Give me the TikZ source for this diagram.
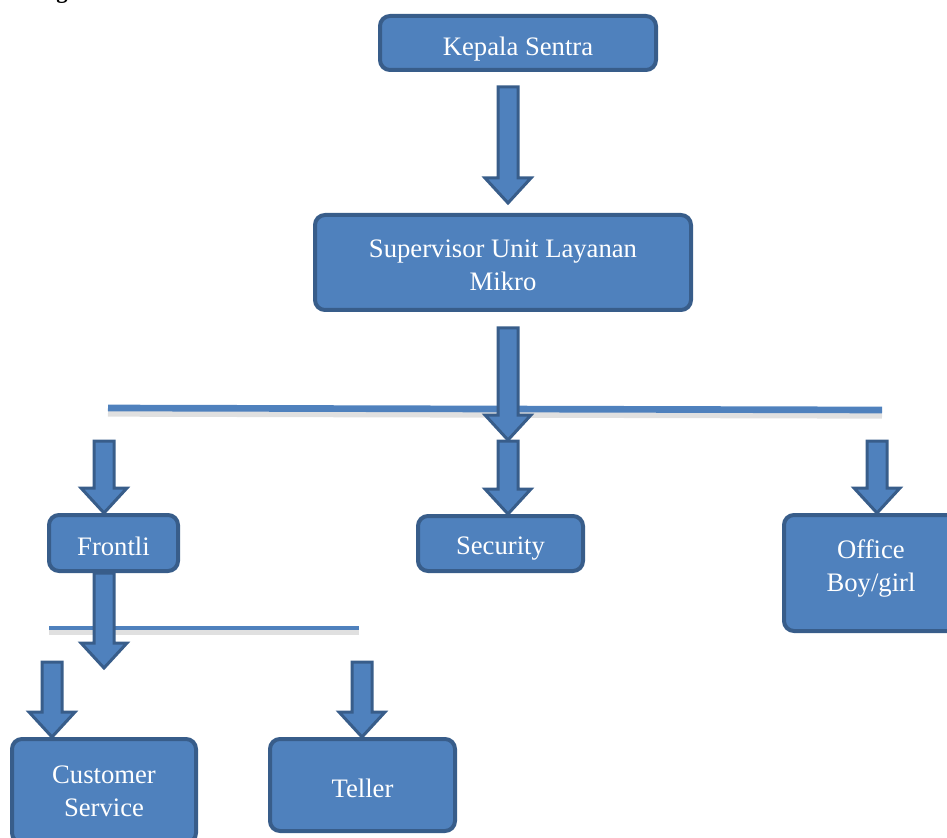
\documentclass[tikz,border=0pt]{standalone}
\usepackage{fontspec}
\setmainfont{Liberation Serif}
\usetikzlibrary{calc,positioning}
\pgfdeclarelayer{back}
\pgfsetlayers{back,main}
\definecolor{boxblue}{HTML}{4F81BD}
\definecolor{edgeblue}{HTML}{385D8A}
\tikzstyle{block} = [draw=edgeblue, fill=boxblue, line width=3pt,
    rounded corners=7.5pt, text=white, align=center, inner sep=0pt,
    font=\fontsize{20}{24.75}\selectfont]
\tikzstyle{barrow} = [draw=edgeblue, fill=boxblue, line width=2.25pt,
    line join=miter]
\tikzstyle{bar} = [draw=boxblue]
\tikzstyle{barshadow} = [draw=black, opacity=.12]
% block arrow pointing down, from #1 to #2
\newcommand{\blockarr}[2]{%
  \draw[barrow] let \p1 = (#1), \p2 = (#2) in
    (\x1-7.5pt,\y1) -- (\x1+7.5pt,\y1) -- (\x1+7.5pt,\y2+18.75pt)
    -- (\x1+17.25pt,\y2+18.75pt) -- (\x1,\y2)
    -- (\x1-17.25pt,\y2+18.75pt) -- (\x1-7.5pt,\y2+18.75pt) -- cycle;}
% move a line of box text up/down, keeping its box size
\newcommand{\shifted}[2]{\raisebox{#1}[\height][\depth]{#2}}

\begin{document}
\begin{tikzpicture}[x=0.75pt,y=-0.75pt]
\clip (0,0) rectangle (947,838);

\node (heading) [anchor=base, font=\fontsize{17}{20}\selectfont\bfseries] at (62,-1) {g};

\node (kepala) [block, minimum width=207pt, minimum height=40.5pt] at (518,43) {\shifted{-4.5pt}{Kepala Sentra}};
\node (super) [block, minimum width=282pt, minimum height=71.25pt] at (503,262.5)
    {\shifted{-2.25pt}{Supervisor Unit Layanan}\\\shifted{-2.25pt}{Mikro}};
\node (frontli) [block, minimum width=96.75pt, minimum height=42pt] at (113.5,543) {\shifted{-2.25pt}{Frontli}};
\node (security) [block, minimum width=123.75pt, minimum height=41.25pt] at (500.5,543.5) {\shifted{-3.75pt}{Security}};
\node (office) [block, minimum width=130.5pt, minimum height=87pt] at (871,573)
    {\shifted{3.75pt}{Office}\\\shifted{3.75pt}{Boy/girl}};
\node (customer) [block, minimum width=138pt, minimum height=78pt] at (104,791) {Customer\\Service};
\node (teller) [block, minimum width=138.75pt, minimum height=69pt] at (362.5,785) {\shifted{-2.25pt}{Teller}};

% connector bars
\coordinate (bar1_l) at (108,408);
\coordinate (bar1_r) at (882,410);
\coordinate (bar2_l) at (49,628);
\coordinate (bar2_r) at (359,628);

% arrow ends
\coordinate (k_a) at (508,87);
\coordinate (k_b) at (508,203);
\coordinate (s_a) at (508,328);
\coordinate (s_b) at (508,440);
\coordinate (l_f) at (104,441);
\coordinate (l_s) at (508,441);
\coordinate (l_o) at (877,441);
\coordinate (f_b) at (104,668);
\coordinate (m_c) at (52,662);
\coordinate (m_t) at (362,662);

\begin{pgfonlayer}{back}
\draw[barshadow, line width=6pt] ([yshift=-3.5pt]bar1_l) -- ([yshift=-3.5pt]bar1_r);
\draw[bar, line width=5pt] (bar1_l) -- (bar1_r);
\draw[barshadow, line width=4pt] ([yshift=-3pt]bar2_l) -- ([yshift=-3pt]bar2_r);
\draw[bar, line width=3pt] (bar2_l) -- (bar2_r);

\blockarr{k_a}{k_b}
\blockarr{s_a}{s_b}
\blockarr{l_f}{l_f |- frontli.north}
\blockarr{l_s}{l_s |- security.north}
\blockarr{l_o}{l_o |- office.north}
\blockarr{l_f |- frontli.south}{f_b}
\blockarr{m_c}{m_c |- customer.north}
\blockarr{m_t}{m_t |- teller.north}
\end{pgfonlayer}

\end{tikzpicture}
\end{document}
